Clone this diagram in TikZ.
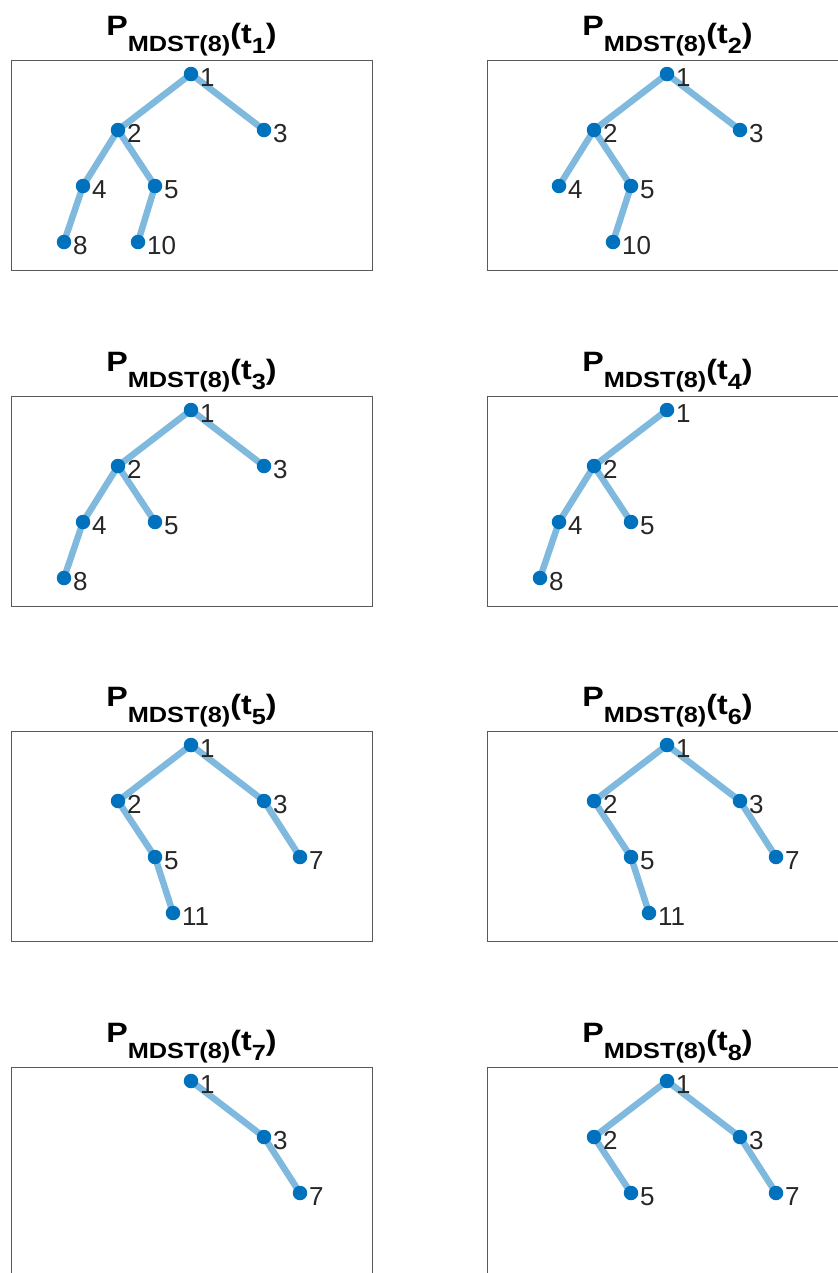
\documentclass[tikz,border=0pt]{standalone}
\usepackage{fontspec}
\setmainfont{Liberation Sans}
\newfontfamily\titlefont[FakeStretch=1.15]{Liberation Sans}
\newcommand{\ptitle}[1]{{\titlefont\bfseries\fontsize{28bp}{30bp}\selectfont P\raisebox{-16bp}{\fontsize{22bp}{24bp}\selectfont MDST(8)}\raisebox{-8bp}{(t\raisebox{-10bp}{\fontsize{22bp}{24bp}\selectfont #1})}}}
\pgfdeclarelayer{bg}
\pgfsetlayers{bg,main}
\definecolor{nodeblue}{RGB}{0,114,189}
\definecolor{edgeblue}{RGB}{128,185,222}
\definecolor{txt}{RGB}{38,38,38}
\tikzset{
  panelbox/.style={draw=black!65, line width=0.9bp},
  vtx/.style={circle, fill=nodeblue, inner sep=0, minimum size=14.5bp},
  tedge/.style={draw=edgeblue, line width=6.5bp},
  lbl/.style={anchor=base west, inner sep=0, text=txt, font=\fontsize{26bp}{26bp}\selectfont},
  ttl/.style={anchor=base, inner sep=0, text=black}
}
\newcommand{\V}[4]{\node[vtx] (#1) at (#2,#3) {}; \node[lbl] (#1l) at (#2+9,#3+12) {#4};}
\newcommand{\E}[2]{\begin{pgfonlayer}{bg}\draw[tedge] (#1.center) -- (#2.center);\end{pgfonlayer}}
\begin{document}
\begin{tikzpicture}[x=1bp,y=-1bp]
\useasboundingbox (0,0) rectangle (838,1273);
\clip (0,0) rectangle (838,1273);
% panel 1
\begin{scope}
\node[ttl] (ta) at (191.5,35) {\ptitle{1}};
\draw[panelbox] (11,60) rectangle (372,270);
\V{a1}{191}{74}{1}\V{a2}{118}{130}{2}\V{a3}{264}{130}{3}
\V{a4}{83}{186}{4}\V{a5}{155}{186}{5}\V{a8}{64}{242}{8}\V{a10}{138}{242}{10}
\E{a1}{a2}\E{a1}{a3}\E{a2}{a4}\E{a2}{a5}\E{a4}{a8}\E{a5}{a10}
\end{scope}
% panel 2
\begin{scope}[shift={(476,0)}]
\node[ttl] (tb) at (191.5,35) {\ptitle{2}};
\draw[panelbox] (11,60) rectangle (372,270);
\V{b1}{191}{74}{1}\V{b2}{118}{130}{2}\V{b3}{264}{130}{3}
\V{b4}{83}{186}{4}\V{b5}{155}{186}{5}\V{b10}{137}{242}{10}
\E{b1}{b2}\E{b1}{b3}\E{b2}{b4}\E{b2}{b5}\E{b5}{b10}
\end{scope}
% panel 3
\begin{scope}[shift={(0,336)}]
\node[ttl] (tc) at (191.5,35) {\ptitle{3}};
\draw[panelbox] (11,60) rectangle (372,270);
\V{c1}{191}{74}{1}\V{c2}{118}{130}{2}\V{c3}{264}{130}{3}
\V{c4}{83}{186}{4}\V{c5}{155}{186}{5}\V{c8}{64}{242}{8}
\E{c1}{c2}\E{c1}{c3}\E{c2}{c4}\E{c2}{c5}\E{c4}{c8}
\end{scope}
% panel 4
\begin{scope}[shift={(476,336)}]
\node[ttl] (td) at (191.5,35) {\ptitle{4}};
\draw[panelbox] (11,60) rectangle (372,270);
\V{d1}{191}{74}{1}\V{d2}{118}{130}{2}
\V{d4}{83}{186}{4}\V{d5}{155}{186}{5}\V{d8}{64}{242}{8}
\E{d1}{d2}\E{d2}{d4}\E{d2}{d5}\E{d4}{d8}
\end{scope}
% panel 5
\begin{scope}[shift={(0,671)}]
\node[ttl] (te) at (191.5,35) {\ptitle{5}};
\draw[panelbox] (11,60) rectangle (372,270);
\V{e1}{191}{74}{1}\V{e2}{118}{130}{2}\V{e3}{264}{130}{3}
\V{e5}{155}{186}{5}\V{e7}{300}{186}{7}\V{e11}{173}{242}{11}
\E{e1}{e2}\E{e1}{e3}\E{e2}{e5}\E{e3}{e7}\E{e5}{e11}
\end{scope}
% panel 6
\begin{scope}[shift={(476,671)}]
\node[ttl] (tf) at (191.5,35) {\ptitle{6}};
\draw[panelbox] (11,60) rectangle (372,270);
\V{f1}{191}{74}{1}\V{f2}{118}{130}{2}\V{f3}{264}{130}{3}
\V{f5}{155}{186}{5}\V{f7}{300}{186}{7}\V{f11}{173}{242}{11}
\E{f1}{f2}\E{f1}{f3}\E{f2}{f5}\E{f3}{f7}\E{f5}{f11}
\end{scope}
% panel 7
\begin{scope}[shift={(0,1007)}]
\node[ttl] (tg) at (191.5,35) {\ptitle{7}};
\draw[panelbox] (11,60) rectangle (372,270);
\V{g1}{191}{74}{1}\V{g3}{264}{130}{3}\V{g7}{300}{186}{7}
\E{g1}{g3}\E{g3}{g7}
\end{scope}
% panel 8
\begin{scope}[shift={(476,1007)}]
\node[ttl] (th) at (191.5,35) {\ptitle{8}};
\draw[panelbox] (11,60) rectangle (372,270);
\V{h1}{191}{74}{1}\V{h2}{118}{130}{2}\V{h3}{264}{130}{3}
\V{h5}{155}{186}{5}\V{h7}{300}{186}{7}
\E{h1}{h2}\E{h1}{h3}\E{h2}{h5}\E{h3}{h7}
\end{scope}
\end{tikzpicture}
\end{document}
